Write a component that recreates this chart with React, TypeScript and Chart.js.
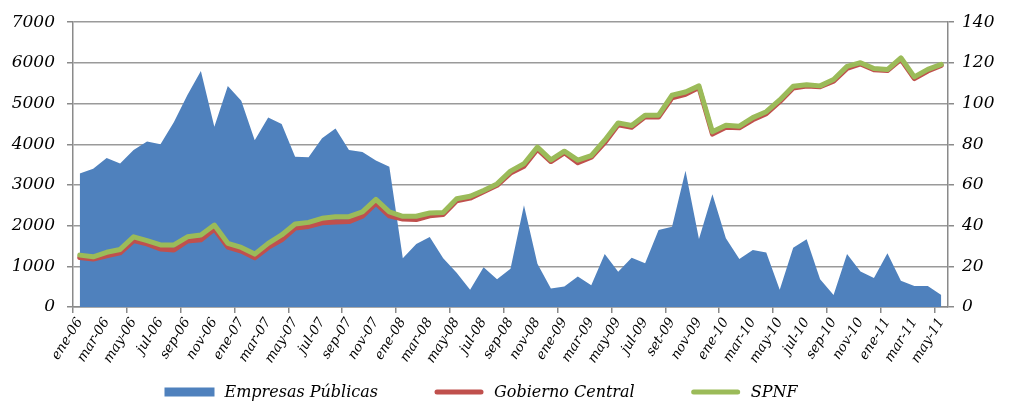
import React, { useEffect, useRef } from 'react';
import { Chart, registerables } from 'chart.js';

Chart.register(...registerables);

const categories = [
  'ene-06', 'feb-06', 'mar-06', 'abr-06', 'may-06', 'jun-06', 'jul-06', 'ago-06', 'sep-06', 'oct-06', 'nov-06', 'dic-06',
  'ene-07', 'feb-07', 'mar-07', 'abr-07', 'may-07', 'jun-07', 'jul-07', 'ago-07', 'sep-07', 'oct-07', 'nov-07', 'dic-07',
  'ene-08', 'feb-08', 'mar-08', 'abr-08', 'may-08', 'jun-08', 'jul-08', 'ago-08', 'sep-08', 'oct-08', 'nov-08', 'dic-08',
  'ene-09', 'feb-09', 'mar-09', 'abr-09', 'may-09', 'jun-09', 'jul-09', 'ago-09', 'set-09', 'oct-09', 'nov-09', 'dic-09',
  'ene-10', 'feb-10', 'mar-10', 'abr-10', 'may-10', 'jun-10', 'jul-10', 'ago-10', 'sep-10', 'oct-10', 'nov-10', 'dic-10',
  'ene-11', 'feb-11', 'mar-11', 'abr-11', 'may-11',
];

const empresasPublicas = [
  3280, 3400, 3660, 3530, 3860, 4070, 4000, 4550, 5210, 5800, 4430, 5430,
  5070, 4100, 4660, 4500, 3690, 3680, 4150, 4390, 3860, 3810, 3600, 3450,
  1200, 1550, 1720, 1200, 840, 425, 980, 680, 940, 2500, 1060, 455,
  505, 750, 535, 1300, 865, 1210, 1075, 1890, 1970, 3350, 1670, 2770,
  1690, 1180, 1400, 1340, 425, 1455, 1665, 680, 295, 1300, 870, 715,
  1320, 645, 515, 515, 295,
];

const gobiernoCentral = [
  24.3, 23.6, 25.2, 26.6, 32.6, 31.0, 28.5, 28.0, 32.5, 33.0, 38.3, 29.5,
  27.5, 24.2, 29.3, 33.0, 38.8, 39.6, 41.4, 41.8, 42.0, 44.6, 51.0, 44.8,
  43.2, 43.0, 44.8, 45.5, 52.2, 53.5, 56.6, 59.8, 65.8, 69.2, 77.6, 71.5,
  75.8, 70.9, 73.6, 80.8, 89.6, 88.4, 93.5, 93.4, 102.8, 104.6, 107.9, 85.0,
  88.3, 88.1, 92.0, 95.0, 100.9, 107.6, 108.6, 108.3, 111.0, 117.3, 119.5, 116.6,
  116.2, 121.8, 112.3, 116.0, 118.8,
];

const spnf = [
  25.5, 24.7, 26.9, 28.3, 34.5, 32.6, 30.5, 30.5, 34.5, 35.4, 40.3, 31.3,
  29.3, 26.0, 31.3, 35.4, 40.8, 41.6, 43.6, 44.4, 44.4, 46.8, 52.9, 46.8,
  44.6, 44.6, 46.2, 46.5, 53.2, 54.4, 57.3, 60.5, 66.8, 70.4, 78.6, 72.3,
  76.6, 72.2, 74.4, 82.0, 90.5, 89.2, 94.3, 94.3, 104.1, 105.7, 108.7, 86.1,
  89.3, 88.9, 93.1, 96.0, 101.8, 108.5, 109.3, 108.7, 111.8, 118.3, 120.1, 117.2,
  116.7, 122.5, 113.1, 116.8, 119.3,
];

const leftAxis = { min: 0, max: 7000, step: 1000 };
const rightAxis = { min: 0, max: 140, step: 20 };

const FONT = "'DejaVu Serif', serif";
const GRID = '#9a9a9a';
const AXIS = '#8a8a8a';

const legendPlugin = {
  id: 'customLegend',
  afterDraw(chart: any) {
    const ctx = chart.ctx;
    ctx.save();
    ctx.font = `italic 16px ${FONT}`;
    const symW = 50;
    const gap = 10;
    const itemGap = 56;
    const items = chart.data.datasets.map((ds: any) => ({
      ds,
      text: ds.label,
      w: ctx.measureText(ds.label).width,
    }));
    const total =
      items.reduce((s: number, it: any) => s + symW + gap + it.w, 0) + itemGap * (items.length - 1);
    let x = 481 - total / 2;
    const cy = 392;
    items.forEach((it: any) => {
      if (it.ds.fill) {
        ctx.fillStyle = it.ds.backgroundColor;
        ctx.fillRect(x, cy - 4.5, symW, 9);
      } else {
        ctx.strokeStyle = it.ds.borderColor;
        ctx.lineWidth = 5;
        ctx.lineCap = 'round';
        ctx.beginPath();
        ctx.moveTo(x + 3, cy);
        ctx.lineTo(x + symW - 3, cy);
        ctx.stroke();
      }
      x += symW + gap;
      ctx.fillStyle = '#000';
      ctx.textBaseline = 'middle';
      ctx.textAlign = 'left';
      ctx.fillText(it.text, x, cy + 1);
      x += it.w + itemGap;
    });
    ctx.restore();
  },
};

export default function App() {
  const canvasRef = useRef<HTMLCanvasElement | null>(null);

  useEffect(() => {
    document.body.style.margin = '0';
    const canvas = canvasRef.current;
    if (!canvas) return;
    const tickFont = { family: FONT, size: 17, style: 'italic' as const };
    const chart = new Chart(canvas, {
      type: 'line',
      data: {
        labels: categories,
        datasets: [
          {
            label: 'Empresas Públicas',
            data: empresasPublicas,
            yAxisID: 'y',
            fill: 'origin',
            backgroundColor: '#4F81BD',
            borderColor: '#4F81BD',
            borderWidth: 0,
            pointRadius: 0,
            tension: 0,
            order: 3,
          },
          {
            label: 'Gobierno Central',
            data: gobiernoCentral,
            yAxisID: 'y1',
            fill: false,
            borderColor: '#C0504D',
            backgroundColor: '#C0504D',
            borderWidth: 5,
            pointRadius: 0,
            tension: 0,
            borderJoinStyle: 'round',
            borderCapStyle: 'round',
            order: 2,
          },
          {
            label: 'SPNF',
            data: spnf,
            yAxisID: 'y1',
            fill: false,
            borderColor: '#9BBB59',
            backgroundColor: '#9BBB59',
            borderWidth: 5,
            pointRadius: 0,
            tension: 0,
            borderJoinStyle: 'round',
            borderCapStyle: 'round',
            order: 1,
          },
        ],
      },
      options: {
        responsive: false,
        animation: false,
        layout: { padding: { top: 22, left: 0, right: 0, bottom: 0 } },
        plugins: {
          legend: { display: false },
          tooltip: { enabled: false },
        },
        scales: {
          x: {
            type: 'category',
            offset: true,
            grid: {
              offset: true,
              drawOnChartArea: false,
              drawTicks: true,
              tickLength: 6,
              lineWidth: 1.5,
              tickColor: (c: any) => (c.index % 4 === 0 ? AXIS : 'rgba(0,0,0,0)'),
            },
            border: { display: true, color: AXIS, width: 1.5 },
            ticks: {
              autoSkip: false,
              minRotation: 58,
              maxRotation: 58,
              padding: 2,
              color: '#000',
              font: { family: FONT, size: 13.5, style: 'italic' },
              callback: (_v: any, i: number) => (i % 2 === 0 ? categories[i] : ''),
            },
            afterFit: (s: any) => {
              s.height = 97;
            },
          },
          y: {
            position: 'left',
            min: leftAxis.min,
            max: leftAxis.max,
            ticks: {
              stepSize: leftAxis.step,
              padding: 12,
              color: '#000',
              font: tickFont,
              callback: (v: any) => String(v),
            },
            grid: { color: GRID, lineWidth: 1.5, tickLength: 6, tickColor: AXIS },
            border: { display: true, color: AXIS, width: 1.5 },
            afterFit: (s: any) => {
              s.width = 73;
            },
          },
          y1: {
            position: 'right',
            min: rightAxis.min,
            max: rightAxis.max,
            ticks: {
              stepSize: rightAxis.step,
              padding: 8,
              color: '#000',
              font: tickFont,
              callback: (v: any) => String(v),
            },
            grid: { drawOnChartArea: false, tickLength: 6, lineWidth: 1.5, color: AXIS },
            border: { display: true, color: AXIS, width: 1.5 },
            afterFit: (s: any) => {
              s.width = 67;
            },
          },
        },
      },
      plugins: [legendPlugin],
    });
    return () => chart.destroy();
  }, []);

  return (
    <div style={{ position: 'absolute', left: 0, top: 0, width: 1015, height: 404 }}>
      <canvas ref={canvasRef} width={1015} height={404} style={{ display: 'block' }} />
    </div>
  );
}
